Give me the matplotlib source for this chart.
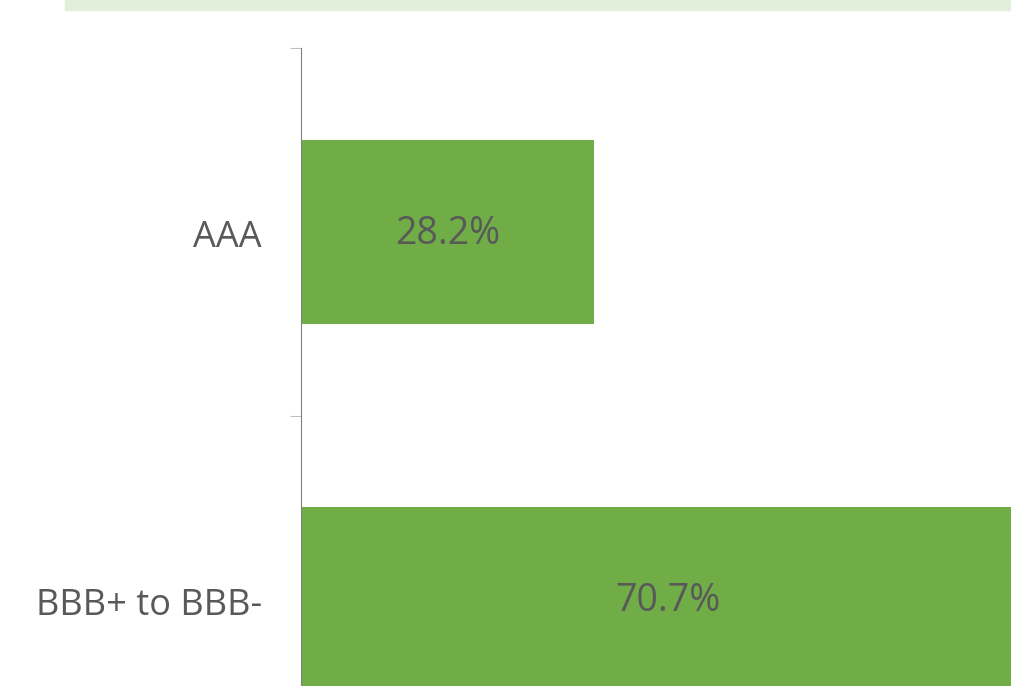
import matplotlib
matplotlib.use("Agg")
import matplotlib.pyplot as plt
from matplotlib.patches import Rectangle

categories = ["AAA", "BBB+ to BBB-"]
values = [28.2, 70.7]
value_labels = ["28.2%", "70.7%"]

W, H = 1012, 686
fig = plt.figure(figsize=(W / 100, H / 100), dpi=100)
plt.rcParams['font.family'] = ['Open Sans', 'DejaVu Sans']

# top light-green band
fig.patches.append(Rectangle((65 / W, 1 - 10 / H), 1 - 65 / W, 10 / H,
                             transform=fig.transFigure, color="#E2EFDA", zorder=0))

px_per_unit = 293 / 28.2
xmax = 80
left = 301 / W
width = xmax * px_per_unit / W
top = 1 - 48 / H
bottom = 1 - 783 / H
ax = fig.add_axes([left, bottom, width, top - bottom])

ypos = list(range(len(categories)))
ax.barh(ypos, values, height=0.502, color="#70AD47", zorder=2)
ax.set_xlim(0, xmax)
ax.set_ylim(len(categories) - 0.5, -0.5)

for y, v, lab in zip(ypos, values, value_labels):
    ax.text(v / 2, y + 0.005, lab, ha="center", va="center", fontsize=27,
            color="#595959", zorder=3)

ax.set_yticks([y + 0.005 for y in ypos])
ax.set_yticklabels(categories, fontsize=26, color="#595959")
ax.tick_params(axis="y", which="major", length=0, pad=28)
ax.set_yticks([-0.5, 0.5, 1.5], minor=True)
ax.tick_params(axis="y", which="minor", length=8, width=0.8, color="#BFBFBF")
ax.set_xticks([])

for s in ["top", "right", "bottom"]:
    ax.spines[s].set_visible(False)
ax.spines["left"].set_color("#808080")
ax.spines["left"].set_linewidth(0.8)

fig.savefig("out.png", dpi=100)
